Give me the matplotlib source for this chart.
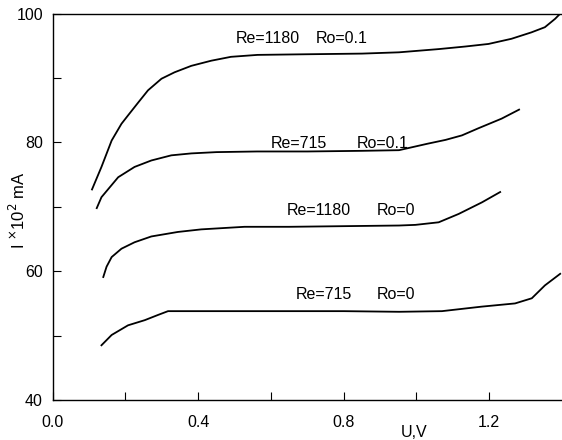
import matplotlib
matplotlib.use('Agg')
import matplotlib.pyplot as plt

plt.rcParams['font.family'] = ['Liberation Sans', 'DejaVu Sans']

# Re=1180 Ro=0.1
u1 = [0.108, 0.134, 0.162, 0.189, 0.207, 0.235, 0.262, 0.299, 0.335, 0.381, 0.436, 0.49,
      0.563, 0.70, 0.85, 0.952, 1.061, 1.134, 1.198, 1.261, 1.316, 1.353, 1.381, 1.395]
i1 = [72.7, 76.2, 80.3, 82.9, 84.2, 86.2, 88.1, 89.9, 90.9, 91.9, 92.7, 93.3,
      93.6, 93.7, 93.8, 94.0, 94.5, 94.9, 95.3, 96.1, 97.1, 97.9, 99.2, 100.0]
# Re=715 Ro=0.1
u2 = [0.121, 0.134, 0.18, 0.225, 0.271, 0.326, 0.381, 0.45, 0.562, 0.70, 0.85,
      0.952, 1.03, 1.08, 1.125, 1.17, 1.234, 1.282]
i2 = [69.8, 71.5, 74.6, 76.2, 77.2, 78.0, 78.3, 78.5, 78.6, 78.6, 78.7,
      78.8, 79.8, 80.4, 81.1, 82.2, 83.7, 85.1]
# Re=1180 Ro=0
u3 = [0.139, 0.148, 0.162, 0.189, 0.225, 0.271, 0.344, 0.408, 0.527, 0.65,
      0.80, 0.952, 0.997, 1.061, 1.116, 1.18, 1.23]
i3 = [59.1, 60.7, 62.2, 63.5, 64.5, 65.4, 66.1, 66.5, 66.9, 66.9,
      67.0, 67.1, 67.2, 67.6, 68.9, 70.7, 72.3]
# Re=715 Ro=0
u4 = [0.134, 0.162, 0.207, 0.253, 0.289, 0.317, 0.40, 0.60, 0.80, 0.952, 1.07,
      1.179, 1.271, 1.317, 1.353, 1.395]
i4 = [48.5, 50.1, 51.6, 52.4, 53.2, 53.8, 53.8, 53.8, 53.8, 53.7, 53.8,
      54.5, 55.0, 55.8, 57.8, 59.6]

curves = [(u1, i1), (u2, i2), (u3, i3), (u4, i4)]
re_labels = ['Re=1180', 'Re=715', 'Re=1180', 'Re=715']
ro_labels = ['Ro=0.1', 'Ro=0.1', 'Ro=0', 'Ro=0']
re_pos = [(0.502, 96.2), (0.600, 79.8), (0.642, 69.5), (0.669, 56.4)]
ro_pos = [(0.724, 96.2), (0.836, 79.8), (0.891, 69.5), (0.891, 56.4)]

fig = plt.figure(figsize=(5.62, 4.4), dpi=100)
ax = fig.add_axes([0.0938, 0.0909, 0.9062, 0.878])

for u, i in curves:
    ax.plot(u, i, color='black', lw=1.3)

for lab, (x, y) in zip(re_labels, re_pos):
    ax.text(x, y, lab, fontsize=11.5, va='center', ha='left')
for lab, (x, y) in zip(ro_labels, ro_pos):
    ax.text(x, y, lab, fontsize=11.5, va='center', ha='left')

ax.set_xlim(0, 1.4)
ax.set_ylim(40, 100)
xt = [0.0, 0.2, 0.4, 0.6, 0.8, 1.0, 1.2]
ax.set_xticks(xt)
ax.set_xticklabels(['0.0', '', '0.4', '', '0.8', '', '1.2'])
yt = [40, 50, 60, 70, 80, 90, 100]
ax.set_yticks(yt)
ax.set_yticklabels(['40', '', '60', '', '80', '', '100'])
ax.tick_params(direction='in', length=6, width=0.8, labelsize=11.5)
ax.tick_params(axis='y', pad=7)
ax.tick_params(axis='x', pad=11)
ax.spines['right'].set_visible(False)
for s in ['left', 'top', 'bottom']:
    ax.spines[s].set_linewidth(1.0)

ax.text(0.993, 35.0, 'U,V', fontsize=11.5, ha='center', va='center')
fig.text(0.032, 0.523, r'I $^{\times}$10$^{2}$ mA', fontsize=12, rotation=90,
         ha='center', va='center')

fig.savefig('out.png', dpi=100)
